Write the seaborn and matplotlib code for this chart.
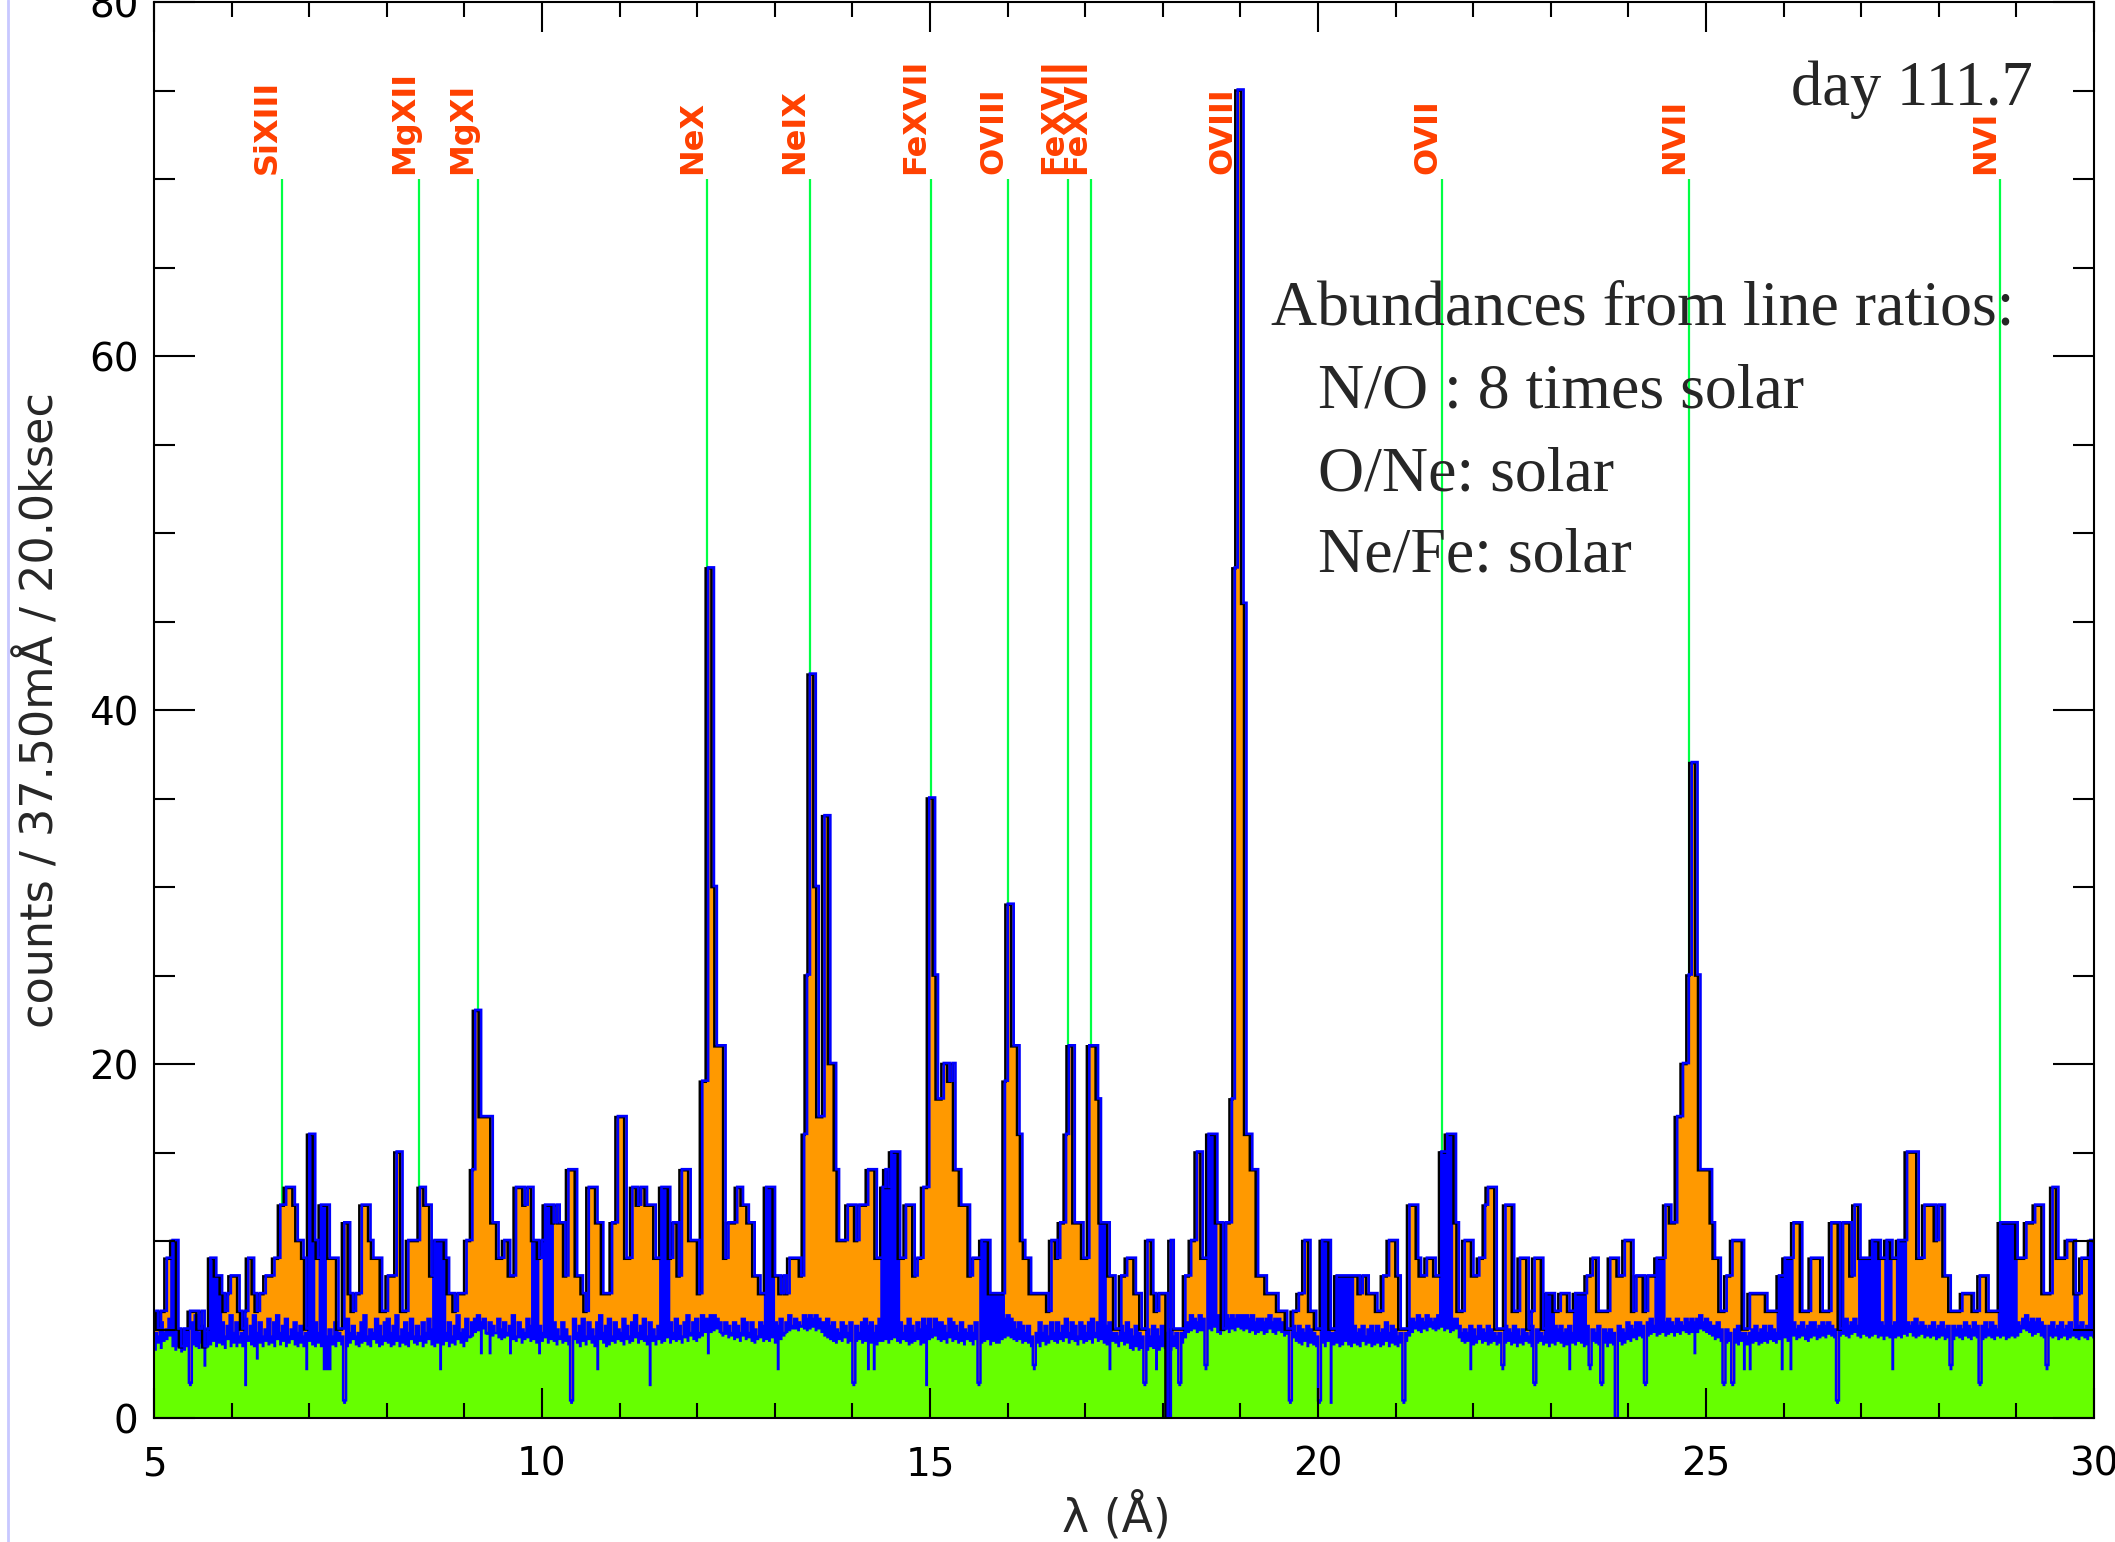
import numpy as np
import pandas as pd
import matplotlib
matplotlib.use("Agg")
import matplotlib.pyplot as plt
from matplotlib.transforms import offset_copy
from matplotlib.lines import Line2D
import seaborn as sns

# Spectrum binning: 37.5 mA bins starting at 5 A
BIN_START = 5.0
BIN_WIDTH = 0.0375

# Observed counts per bin (orange histogram with dark outline)
counts = [
    6, 5, 6, 6, 9, 9, 10, 10, 5, 4,
    5, 5, 6, 6, 6, 5, 6, 4, 5, 9,
    9, 8, 8, 7, 6, 7, 8, 8, 8, 6,
    5, 6, 9, 9, 7, 6, 7, 7, 8, 8,
    8, 9, 9, 12, 12, 13, 13, 13, 12, 10,
    10, 9, 5, 16, 16, 10, 9, 12, 12, 12,
    9, 9, 9, 5, 5, 11, 11, 7, 6, 7,
    7, 12, 12, 12, 10, 9, 9, 9, 6, 6,
    8, 8, 8, 15, 15, 6, 6, 10, 10, 10,
    10, 13, 13, 12, 12, 8, 10, 10, 10, 10,
    9, 7, 7, 6, 7, 7, 7, 10, 10, 14,
    23, 23, 17, 17, 17, 17, 11, 11, 9, 9,
    10, 10, 8, 8, 13, 13, 13, 12, 13, 13,
    10, 10, 9, 10, 12, 12, 12, 11, 12, 11,
    11, 8, 14, 14, 14, 8, 8, 7, 6, 13,
    13, 13, 11, 11, 7, 7, 7, 11, 11, 17,
    17, 17, 9, 9, 13, 13, 12, 13, 13, 12,
    12, 12, 9, 9, 13, 13, 13, 9, 11, 11,
    8, 14, 14, 14, 10, 10, 10, 7, 19, 19,
    48, 48, 30, 21, 21, 21, 9, 11, 11, 11,
    13, 13, 12, 12, 11, 11, 8, 8, 7, 7,
    13, 13, 13, 8, 8, 7, 8, 7, 9, 9,
    9, 9, 8, 16, 25, 42, 42, 30, 17, 17,
    34, 34, 20, 20, 14, 10, 10, 10, 12, 12,
    12, 10, 12, 12, 12, 14, 14, 14, 9, 9,
    13, 14, 13, 15, 15, 15, 9, 9, 12, 12,
    12, 8, 9, 9, 13, 13, 35, 35, 25, 18,
    18, 20, 20, 19, 20, 14, 14, 12, 12, 12,
    8, 9, 9, 9, 10, 10, 10, 7, 7, 7,
    7, 7, 19, 29, 29, 21, 21, 16, 10, 9,
    9, 7, 7, 7, 7, 7, 7, 6, 10, 10,
    9, 11, 11, 16, 21, 21, 11, 11, 11, 9,
    9, 21, 21, 21, 18, 11, 11, 11, 8, 8,
    5, 5, 8, 8, 9, 9, 9, 7, 7, 5,
    5, 10, 10, 7, 6, 7, 7, 7, 0, 10,
    5, 5, 5, 5, 8, 8, 10, 10, 15, 15,
    9, 9, 16, 16, 16, 11, 11, 5, 11, 11,
    18, 48, 75, 75, 46, 16, 16, 14, 14, 8,
    8, 8, 7, 7, 7, 7, 6, 6, 6, 5,
    5, 6, 6, 7, 7, 10, 10, 6, 6, 5,
    5, 10, 10, 10, 5, 5, 8, 8, 8, 8,
    8, 8, 8, 8, 7, 8, 8, 7, 7, 7,
    6, 6, 8, 8, 10, 10, 10, 8, 5, 5,
    5, 12, 12, 12, 9, 8, 8, 9, 9, 9,
    8, 8, 15, 15, 16, 16, 16, 11, 6, 6,
    10, 10, 10, 8, 8, 9, 9, 12, 13, 13,
    13, 5, 5, 5, 12, 12, 12, 6, 6, 9,
    9, 9, 5, 6, 9, 9, 9, 5, 7, 7,
    7, 6, 6, 7, 7, 7, 6, 6, 7, 7,
    7, 7, 8, 8, 9, 9, 6, 6, 6, 6,
    9, 9, 9, 8, 8, 10, 10, 10, 6, 8,
    8, 8, 6, 8, 8, 8, 9, 9, 9, 12,
    12, 11, 11, 17, 17, 20, 20, 25, 37, 37,
    25, 14, 14, 14, 14, 11, 9, 9, 6, 6,
    8, 8, 10, 10, 10, 10, 5, 5, 7, 7,
    7, 7, 7, 7, 6, 6, 6, 6, 8, 8,
    9, 9, 9, 11, 11, 11, 6, 6, 6, 9,
    9, 9, 9, 6, 6, 6, 11, 11, 11, 5,
    11, 11, 11, 8, 12, 12, 9, 9, 9, 9,
    10, 10, 10, 9, 9, 10, 10, 9, 9, 10,
    10, 10, 15, 15, 15, 15, 9, 9, 12, 12,
    12, 12, 10, 12, 12, 8, 8, 6, 6, 6,
    6, 7, 7, 7, 7, 6, 6, 8, 8, 8,
    6, 6, 6, 6, 11, 11, 11, 11, 11, 11,
    9, 9, 9, 11, 11, 11, 12, 12, 12, 7,
    7, 7, 13, 13, 9, 9, 9, 10, 10, 10,
    7, 7, 9, 9, 9, 10, 10,
]

# Continuum level per bin (blue histogram)
continuum = [
    4.8, 4.6, 5.4, 4.8, 5.0, 5.6, 10, 10, 4.6, 4.0,
    4.6, 5.0, 2, 5.4, 5.8, 4.8, 5.2, 4.0, 4.8, 9,
    9, 8, 8, 5.4, 4.6, 5.2, 5.8, 4.8, 5.4, 4.6,
    4.8, 5.6, 4.6, 5.2, 5.8, 4.8, 5.4, 4.6, 5.0, 5.6,
    4.6, 5.4, 5.8, 4.8, 5.2, 5.6, 4.6, 5.0, 5.4, 4.8,
    5.2, 4.6, 4.8, 16, 16, 5.4, 4.8, 12, 12, 4.6,
    5.0, 4.6, 5.4, 4.8, 4.6, 1, 5.6, 4.8, 5.2, 4.6,
    4.8, 5.4, 5.8, 4.6, 5.0, 4.8, 5.6, 5.2, 4.6, 5.4,
    5.6, 4.8, 5.2, 5.8, 4.6, 5.0, 5.4, 4.8, 5.6, 4.6,
    5.2, 4.6, 5.4, 4.8, 5.6, 5.0, 10, 10, 10, 10,
    4.8, 5.4, 4.6, 5.2, 5.8, 4.8, 5.0, 5.6, 4.6, 5.4,
    5.6, 5.8, 5.4, 5.6, 4.8, 5.4, 5.2, 4.8, 5.6, 5.0,
    5.4, 4.8, 5.2, 5.8, 4.6, 5.4, 5.0, 4.8, 5.6, 5.2,
    10, 10, 5.2, 4.8, 12, 12, 12, 5.4, 5.0, 4.6,
    5.4, 5.0, 4.6, 1, 5.6, 4.8, 5.2, 5.6, 4.6, 5.4,
    5.0, 4.6, 5.4, 5.8, 4.8, 5.2, 5.6, 4.6, 5.4, 5.0,
    4.8, 5.6, 5.2, 4.6, 5.4, 5.8, 4.8, 5.2, 5.6, 4.6,
    5.4, 5.0, 4.6, 5.2, 13, 13, 13, 5.4, 4.8, 5.6,
    5.2, 4.6, 5.4, 5.8, 4.8, 5.4, 5.6, 4.8, 5.8, 5.6,
    5.6, 5.8, 5.8, 5.6, 5.4, 4.8, 5.4, 5.2, 4.8, 5.4,
    5.2, 4.8, 5.6, 5.4, 4.8, 5.4, 5.0, 4.6, 5.4, 5.2,
    13, 13, 13, 5.4, 5.2, 5.6, 4.8, 5.4, 5.8, 5.2,
    5.6, 5.4, 5.2, 5.8, 5.6, 5.8, 5.6, 5.8, 5.6, 5.4,
    5.4, 5.6, 5.2, 5.4, 5.0, 4.8, 5.4, 5.2, 4.8, 5.4,
    2, 5.2, 4.8, 5.4, 5.6, 5.2, 5.4, 4.8, 5.2, 5.6,
    13, 14, 13, 15, 15, 15, 5.4, 4.8, 5.2, 5.6,
    5.2, 4.8, 5.4, 5.0, 5.6, 5.2, 5.6, 5.0, 5.6, 5.4,
    5.4, 5.2, 4.8, 5.6, 5.4, 5.2, 4.8, 5.4, 5.0, 4.8,
    5.2, 4.8, 5.4, 2, 10, 10, 10, 7, 7, 7,
    7, 7, 5.6, 5.8, 5.6, 5.4, 5.0, 5.4, 5.2, 4.8,
    5.2, 4.6, 3, 4.8, 5.4, 4.8, 5.2, 4.6, 5.4, 4.8,
    5.4, 4.8, 5.2, 5.6, 4.8, 5.4, 5.2, 4.6, 5.4, 5.2,
    4.8, 5.4, 5.6, 4.8, 5.4, 11, 11, 5.2, 5.4, 4.8,
    4.8, 4.6, 5.2, 4.8, 5.4, 5.0, 4.6, 5.2, 4.8, 4.6,
    2, 5.0, 4.6, 5.2, 5.0, 4.6, 5.2, 4.8, 0, 5.0,
    4.6, 4.8, 2, 4.8, 5.4, 5.4, 5.8, 5.6, 5.4, 5.8,
    5.6, 3, 16, 16, 16, 5.8, 5.6, 5.0, 5.8, 5.6,
    5.8, 5.6, 5.8, 5.8, 5.8, 5.8, 5.6, 5.8, 5.4, 5.6,
    5.6, 5.4, 5.6, 5.8, 5.4, 5.6, 5.6, 5.4, 5.2, 5.0,
    1, 5.2, 4.8, 5.2, 5.0, 4.8, 5.2, 5.0, 4.8, 4.6,
    1, 10, 10, 10, 4.8, 4.8, 8, 8, 8, 8,
    8, 8, 5.2, 4.8, 5.0, 5.2, 4.6, 5.0, 5.2, 4.8,
    5.2, 4.8, 5.0, 5.4, 4.8, 5.2, 5.0, 4.6, 4.8, 1,
    4.8, 5.4, 5.6, 5.4, 5.8, 5.6, 5.4, 5.8, 5.6, 5.4,
    5.6, 5.8, 15, 15, 16, 16, 5.6, 5.6, 5.2, 4.8,
    5.0, 4.8, 5.2, 5.0, 4.6, 5.2, 5.0, 4.8, 5.2, 5.0,
    4.8, 4.6, 4.8, 3, 5.2, 5.0, 4.8, 5.2, 5.0, 4.6,
    5.0, 4.8, 4.6, 5.2, 2, 5.0, 4.8, 4.6, 7, 7,
    7, 5.2, 5.0, 5.2, 4.8, 5.0, 5.2, 4.8, 7, 7,
    7, 7, 5.2, 3, 5.0, 4.8, 5.2, 2, 5.0, 4.8,
    5.0, 4.8, 0, 5.2, 5.0, 4.8, 5.4, 5.2, 5.0, 5.4,
    5.4, 5.2, 2, 5.4, 5.6, 5.2, 9, 9, 9, 5.4,
    5.6, 5.4, 5.2, 5.6, 5.4, 5.2, 5.6, 5.4, 5.6, 5.4,
    5.6, 5.8, 5.4, 5.6, 5.4, 5.2, 5.2, 5.4, 5.0, 2,
    5.0, 4.8, 2, 5.0, 5.2, 4.8, 4.8, 4.6, 4.8, 5.0,
    5.2, 4.8, 5.0, 5.2, 4.8, 5.2, 5.0, 4.8, 8, 8,
    9, 9, 9, 5.4, 5.0, 5.2, 5.4, 5.0, 5.2, 5.4,
    5.4, 5.0, 5.2, 5.4, 5.2, 5.4, 5.2, 5.0, 1, 5.0,
    5.4, 5.6, 5.2, 5.4, 5.6, 5.2, 9, 9, 9, 9,
    10, 10, 10, 5.4, 5.2, 10, 10, 5.2, 5.4, 10,
    10, 10, 5.4, 5.2, 5.4, 5.6, 5.2, 5.4, 5.2, 5.0,
    5.2, 5.4, 5.0, 5.2, 5.4, 5.0, 5.2, 3, 5.2, 5.0,
    5.2, 5.0, 5.4, 5.2, 5.0, 5.4, 5.2, 2, 5.2, 5.4,
    5.0, 5.4, 5.2, 5.0, 11, 11, 11, 11, 11, 11,
    5.4, 5.2, 5.6, 5.8, 5.4, 5.6, 5.4, 5.6, 5.4, 5.2,
    3, 5.2, 5.4, 5.0, 5.2, 5.4, 5.0, 5.2, 5.4, 5.0,
    7, 5.2, 5.4, 5.0, 5.2, 10, 10,
]

# Background level per bin (green histogram)
background = [
    3.8, 4.2, 3.9, 4.3, 4.4, 4.6, 4.0, 3.8, 4.0, 3.7,
    3.8, 4.0, 1.8, 4.1, 4.0, 3.9, 4.2, 2.9, 4.0, 4.1,
    4.3, 4.0, 4.2, 4.1, 3.9, 4.4, 4.0, 4.2, 4.0, 4.2,
    4.0, 1.8, 4.3, 4.1, 4.0, 3.3, 4.2, 4.0, 4.3, 4.1,
    4.2, 4.0, 4.4, 4.1, 4.3, 4.0, 4.2, 4.4, 4.1, 4.0,
    4.2, 4.0, 2.7, 4.3, 4.1, 4.0, 4.2, 4.0, 2.7, 2.7,
    2.7, 4.1, 4.0, 4.3, 4.1, 0.8, 4.0, 4.2, 4.4, 4.1,
    4.0, 4.2, 4.3, 4.1, 4.0, 4.4, 4.2, 4.0, 4.1, 4.3,
    4.2, 4.0, 4.1, 4.3, 4.0, 4.2, 4.1, 4.0, 4.4, 4.2,
    4.1, 4.3, 4.0, 4.2, 4.4, 4.1, 4.0, 4.2, 2.7, 4.1,
    4.3, 4.0, 4.2, 4.1, 4.4, 4.2, 4.0, 4.3, 4.5, 4.6,
    4.8, 4.9, 3.6, 5.0, 4.7, 3.6, 4.6, 4.8, 4.5, 4.4,
    4.5, 4.6, 3.6, 4.4, 4.3, 4.5, 4.2, 4.4, 4.5, 4.3,
    4.4, 4.2, 3.6, 4.3, 4.5, 4.2, 4.4, 4.3, 4.1, 4.4,
    4.2, 4.3, 4.1, 0.8, 4.4, 4.2, 4.0, 4.3, 4.1, 4.4,
    4.2, 4.0, 2.7, 4.4, 4.2, 4.0, 4.1, 4.3, 4.2, 4.4,
    4.3, 4.1, 4.4, 4.2, 4.3, 4.5, 4.2, 4.4, 4.3, 4.1,
    1.8, 4.3, 4.1, 4.4, 4.2, 4.3, 4.5, 4.2, 4.4, 4.3,
    4.4, 4.2, 4.5, 4.3, 4.6, 4.4, 4.3, 4.5, 4.6, 4.8,
    3.6, 4.8, 4.9, 5.0, 4.8, 4.6, 4.7, 4.5, 4.6, 4.4,
    4.5, 4.3, 4.6, 4.4, 4.5, 4.3, 4.2, 4.4, 4.5, 4.3,
    4.4, 4.3, 4.5, 4.2, 2.7, 4.4, 4.6, 4.8, 4.9, 5.0,
    5.0, 4.9, 5.1, 5.0, 4.9, 5.0, 5.1, 4.9, 5.0, 4.8,
    4.6, 4.5, 4.4, 4.3, 4.2, 4.4, 4.3, 4.5, 4.2, 4.3,
    1.8, 4.3, 4.4, 4.2, 4.3, 2.7, 4.2, 2.7, 4.1, 4.3,
    4.3, 4.4, 4.2, 4.4, 4.5, 4.3, 4.2, 4.4, 4.3, 4.1,
    4.2, 4.3, 4.4, 4.1, 4.2, 1.8, 4.4, 4.5, 4.6, 4.4,
    4.3, 4.4, 4.2, 4.5, 4.3, 4.4, 4.2, 4.3, 4.1, 4.4,
    4.3, 4.1, 4.4, 1.8, 4.2, 4.3, 4.4, 4.1, 4.3, 4.2,
    4.2, 4.4, 4.5, 4.6, 4.5, 4.4, 4.3, 4.4, 4.2, 4.3,
    4.2, 4.0, 2.7, 4.2, 4.0, 4.3, 4.1, 4.2, 4.4, 4.3,
    4.2, 4.4, 4.3, 4.5, 4.2, 4.4, 4.3, 4.1, 4.4, 4.2,
    4.3, 4.4, 4.2, 4.5, 4.3, 4.4, 4.2, 4.1, 2.7, 4.3,
    4.2, 4.0, 4.3, 4.1, 4.2, 3.9, 3.8, 4.0, 3.8, 3.9,
    1.8, 3.8, 4.0, 3.9, 2.7, 3.8, 4.0, 3.9, 0.0, 3.8,
    4.0, 3.9, 1.8, 4.2, 4.5, 4.8, 4.9, 5.0, 4.8, 4.9,
    4.9, 2.7, 5.0, 4.9, 5.1, 4.8, 4.7, 4.9, 5.0, 4.8,
    5.0, 4.9, 5.1, 5.0, 4.9, 5.0, 4.8, 4.9, 4.7, 4.8,
    4.9, 4.7, 4.8, 5.0, 4.8, 4.7, 4.9, 4.8, 4.6, 4.7,
    0.8, 4.5, 4.3, 4.2, 4.1, 4.3, 4.0, 4.2, 4.1, 4.0,
    0.8, 4.2, 4.0, 4.3, 0.8, 4.1, 4.2, 4.0, 4.1, 4.3,
    4.1, 4.0, 4.2, 4.1, 4.0, 4.3, 4.1, 4.2, 4.0, 4.1,
    4.2, 4.0, 4.1, 4.3, 4.0, 4.2, 4.1, 4.0, 4.2, 0.8,
    4.3, 4.6, 4.8, 5.0, 4.9, 4.8, 5.0, 4.9, 5.1, 5.0,
    4.9, 5.0, 5.1, 4.9, 5.0, 4.8, 4.9, 5.0, 4.5, 4.3,
    4.2, 4.3, 2.7, 4.1, 4.2, 4.4, 4.2, 4.3, 4.1, 4.2,
    4.3, 4.1, 4.2, 2.7, 4.2, 4.3, 4.1, 4.2, 4.0, 4.2,
    4.1, 4.3, 4.2, 4.0, 1.8, 4.2, 4.3, 4.1, 4.2, 4.0,
    4.2, 4.1, 4.3, 4.2, 4.0, 4.1, 2.7, 4.2, 4.1, 4.3,
    4.2, 4.0, 4.1, 2.7, 4.3, 4.2, 4.1, 1.8, 4.2, 4.0,
    4.2, 4.1, 0.0, 4.3, 4.1, 4.2, 4.4, 4.3, 4.5, 4.4,
    4.6, 4.5, 1.8, 4.6, 4.7, 4.8, 4.6, 4.7, 4.8, 4.6,
    4.7, 4.8, 4.6, 4.8, 4.7, 4.9, 4.8, 4.7, 4.8, 3.6,
    4.8, 5.0, 4.9, 4.8, 4.7, 4.6, 4.4, 4.5, 4.3, 1.8,
    4.2, 4.3, 1.8, 4.2, 4.1, 4.3, 2.7, 4.1, 2.7, 4.2,
    4.3, 4.1, 4.2, 4.3, 4.2, 4.4, 4.3, 4.2, 4.4, 2.7,
    4.5, 4.3, 2.7, 4.6, 4.4, 4.5, 4.6, 4.4, 4.3, 4.5,
    4.6, 4.4, 4.5, 4.6, 4.5, 4.7, 4.6, 4.5, 0.8, 4.6,
    4.7, 4.6, 4.5, 4.7, 4.8, 4.6, 4.5, 4.7, 4.6, 4.5,
    4.6, 4.7, 4.5, 4.6, 4.4, 4.6, 4.5, 2.7, 4.5, 4.6,
    4.5, 4.7, 4.6, 4.8, 4.6, 4.5, 4.6, 4.7, 4.5, 4.6,
    4.5, 4.6, 4.4, 4.5, 4.6, 4.4, 4.5, 2.7, 4.4, 4.6,
    4.5, 4.4, 4.6, 4.5, 4.4, 4.6, 4.5, 1.8, 4.4, 4.5,
    4.6, 4.5, 4.4, 4.6, 4.5, 4.6, 4.4, 4.5, 4.6, 4.5,
    4.6, 4.8, 5.0, 4.9, 4.8, 4.6, 4.7, 4.8, 4.6, 4.5,
    2.7, 4.6, 4.5, 4.6, 4.4, 4.5, 4.6, 4.4, 4.5, 4.6,
    4.5, 4.4, 4.6, 4.5, 4.4, 4.6, 4.5,
]

# Line identifications
line_names = ["SiXIII", "MgXII", "MgXI", "NeX", "NeIX", "FeXVII", "OVIII",
              "FeXVII", "FeXVII", "OVIII", "OVII", "NVII", "NVI"]
line_waves = [6.65, 8.42, 9.17, 12.13, 13.45, 15.01, 16.01,
              16.78, 17.08, 18.97, 21.60, 24.78, 28.79]
LINE_MARK_TOP = 70.0

epoch_text = "day 111.7"
notes_title = "Abundances from line ratios:"
notes_lines = ["N/O : 8 times solar", "O/Ne: solar", "Ne/Fe: solar"]

ORANGE = "#ff9900"
BLUE = "#0000ff"
GREEN = "#66ff00"
MARK_GREEN = "#00ff44"
LABEL_RED = "#ff4000"

sns.set_style("ticks")
plt.rcParams["font.family"] = ["DejaVu Sans"]

n_bins = len(counts)
edges = BIN_START + BIN_WIDTH * np.arange(n_bins + 1)
centers = 0.5 * (edges[:-1] + edges[1:])
spec = pd.DataFrame({"wave": centers, "counts": counts,
                     "continuum": continuum, "background": background})
bin_edges = [float(e) for e in edges]

fig = plt.figure(figsize=(21.15, 15.42), dpi=100)
fig.patch.set_facecolor("white")
ax = fig.add_axes([0.0728, 0.0804, 0.9173, 0.9183])
ax.set_facecolor("white")

# line markers sit behind the spectrum
ax.vlines(line_waves, 0, LINE_MARK_TOP, colors=MARK_GREEN, lw=1.6, zorder=1.0)
for name, w in zip(line_names, line_waves):
    ax.text(w + 0.01, LINE_MARK_TOP + 0.3, name, rotation=90, ha="right",
            va="bottom", color=LABEL_RED, fontsize=23, fontweight="bold",
            zorder=1.05)

# stacked filled histograms
for col_name, col, z in [("counts", ORANGE, 1.2), ("continuum", BLUE, 1.3),
                         ("background", GREEN, 1.4)]:
    sns.histplot(data=spec, x="wave", weights=col_name, bins=bin_edges,
                 element="step", fill=True, color=col, alpha=1.0,
                 linewidth=0, edgecolor="none", ax=ax, zorder=z)

# continuum line drawn over the background
ax.stairs(continuum, edges, baseline=None, color=BLUE, lw=1.8, zorder=1.45)

# dark outline of the observed counts, with a blue shadow
black_tr = offset_copy(ax.transData, fig=fig, x=-1.2, y=0.0, units="dots")
blue_tr = offset_copy(ax.transData, fig=fig, x=1.2, y=1.0, units="dots")
ax.stairs(counts, edges, baseline=None, color="black", lw=1.9,
          transform=black_tr, zorder=1.5)
ax.stairs(counts, edges, baseline=None, color=BLUE, lw=1.9,
          transform=blue_tr, zorder=1.6)

ax.set_xlim(5, 30)
ax.set_ylim(0, 80)
ax.set_xticks([5, 10, 15, 20, 25, 30])
ax.set_xticks(np.arange(5, 31, 1), minor=True)
ax.set_yticks([0, 20, 40, 60, 80])
ax.set_yticks(np.arange(0, 81, 5), minor=True)
ax.set_axisbelow(False)
ax.tick_params(which="both", direction="in", top=True, right=True,
               color="black", width=1.5, labelcolor="black")
ax.tick_params(axis="x", which="major", length=21.6, labelsize=28, pad=20)
ax.tick_params(axis="x", which="minor", length=10.8)
ax.tick_params(axis="y", which="major", length=29.5, labelsize=28, pad=11)
ax.tick_params(axis="y", which="minor", length=14.8)
for sp in ax.spines.values():
    sp.set_color("black")
    sp.set_linewidth(1.5)
    sp.set_zorder(5)

ax.set_xlabel("\u03bb (\u00c5)", fontsize=33)
ax.set_ylabel("counts / 37.50m\u00c5 / 20.0ksec", fontsize=32)
ax.xaxis.label.set_va("center")
ax.yaxis.label.set_va("center")
ax.xaxis.set_label_coords(0.496, -0.070)
ax.yaxis.set_label_coords(-0.059, 0.5)

serif = "Liberation Serif"
ax.text(29.21, 74.2, epoch_text, ha="right", va="baseline", fontsize=45,
        family=serif, zorder=6)
ax.text(19.39, 61.8, notes_title, ha="left", va="baseline", fontsize=46,
        family=serif, zorder=6)
for txt, yy in zip(notes_lines, [57.1, 52.4, 47.8]):
    ax.text(20.0, yy, txt, ha="left", va="baseline", fontsize=46,
            family=serif, zorder=6)

# thin frame line at the left page edge
fig.add_artist(Line2D([0.0038, 0.0038], [0, 1], transform=fig.transFigure,
                      color="#c8c8ff", lw=2))

fig.savefig("out.png", dpi=100, facecolor="white")
